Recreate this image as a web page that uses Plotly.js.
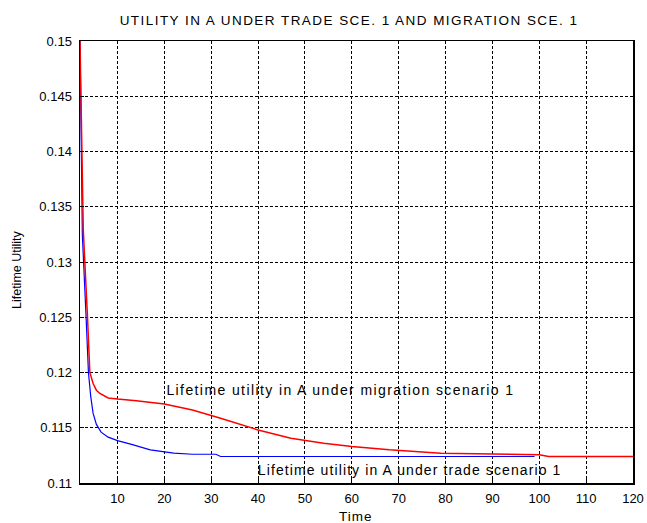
<!DOCTYPE html>
<html>
<head>
<meta charset="utf-8">
<script src="https://cdn.plot.ly/plotly-3.0.1.min.js"></script>
<style>
html,body{margin:0;padding:0;background:#fff;}
#chart{width:647px;height:523px;}
.gtitle{letter-spacing:1.45px;}
.annotation[data-index="0"] .annotation-text{letter-spacing:1.4px;}
.annotation[data-index="1"] .annotation-text{letter-spacing:1.1px;}
.annotation[data-index="2"] .annotation-text{letter-spacing:1px;}
</style>
</head>
<body>
<div id="chart"></div>
<script>
// Trade scenario 1 (blue)
var tradeTime = [2, 2.5, 3.3, 3.8, 4.3, 4.8, 5.5, 6.5, 8, 10, 13, 17, 22, 26, 31, 32, 99];
var tradeUtility = [0.150, 0.1325, 0.125, 0.120, 0.1178, 0.1163, 0.1153, 0.1146, 0.11415, 0.11383, 0.1135, 0.1130, 0.1127, 0.1126, 0.1126, 0.1124, 0.1124];

// Migration scenario 1 (red)
var migTime = [2, 2.7, 3.6, 4.1, 4.8, 5.5, 6.25, 8, 10, 14, 20, 26, 32, 36.7, 40, 47, 54, 60, 68, 79, 89, 100, 102, 120];
var migUtility = [0.150, 0.1329, 0.125, 0.120, 0.119, 0.1184, 0.1181, 0.1177, 0.1176, 0.11745, 0.11715, 0.1166, 0.11586, 0.11525, 0.1148, 0.11405, 0.1136, 0.1133, 0.1130, 0.1127, 0.1126, 0.11255, 0.1124, 0.1124];

var xTicks = [10, 20, 30, 40, 50, 60, 70, 80, 90, 100, 110, 120];
var yTicks = [0.11, 0.115, 0.12, 0.125, 0.13, 0.135, 0.14, 0.145, 0.15];
var yTickText = ["0.11", "0.115", "0.12", "0.125", "0.13", "0.135", "0.14", "0.145", "0.15"];

var titleText = "UTILITY IN A UNDER TRADE SCE. 1 AND MIGRATION SCE. 1";
var migLabel = "Lifetime utility in A under migration scenario 1";
var tradeLabel = "Lifetime utility in A under trade scenario 1";
var xTitle = "Time";
var yTitle = "Lifetime Utility";

var font = "Liberation Sans, Arial, Helvetica, sans-serif";

var traces = [
  {x: tradeTime, y: tradeUtility, mode: "lines", line: {color: "#0000ff", width: 1.2}, hoverinfo: "skip"},
  {x: migTime, y: migUtility, mode: "lines", line: {color: "#ff0000", width: 1.5}, hoverinfo: "skip"}
];

var layout = {
  width: 647, height: 523,
  margin: {l: 80, r: 14, t: 41, b: 40},
  paper_bgcolor: "#ffffff", plot_bgcolor: "#ffffff",
  showlegend: false,
  font: {family: font, size: 13, color: "#000"},
  title: {text: titleText, font: {family: font, size: 13.5, color: "#000"}, x: 349 / 647, xanchor: "center", y: 1 - 20 / 523, yanchor: "middle"},
  xaxis: {
    range: [2, 120], tickmode: "array", tickvals: xTicks,
    showgrid: true, gridcolor: "#000", griddash: "3px,2px", gridwidth: 1,
    showline: true, linecolor: "#000", linewidth: 1.5, mirror: true,
    ticks: "inside", ticklen: 4, tickcolor: "#000",
    zeroline: false, automargin: false, ticklabelstandoff: 3,
    tickfont: {family: font, size: 13}
  },
  yaxis: {
    range: [0.11, 0.15], tickmode: "array", tickvals: yTicks, ticktext: yTickText,
    showgrid: true, gridcolor: "#000", griddash: "3px,2px", gridwidth: 1,
    showline: true, linecolor: "#000", linewidth: 1.5, mirror: true,
    ticks: "inside", ticklen: 4, tickcolor: "#000",
    zeroline: false, automargin: false, ticklabelstandoff: 4,
    tickfont: {family: font, size: 13}
  },
  annotations: [
    {x: 27.2, y: 0.11842, xref: "x", yref: "y", text: migLabel, showarrow: false, xanchor: "left", yanchor: "middle", font: {family: font, size: 14, color: "#000"}},
    {x: 44.7, y: 0.11118, xref: "x", yref: "y", text: tradeLabel, showarrow: false, xanchor: "left", yanchor: "middle", font: {family: font, size: 14, color: "#000"}},
    {x: 0.499, y: -0.0769, xref: "paper", yref: "paper", text: xTitle, showarrow: false, xanchor: "center", yanchor: "middle", font: {family: font, size: 13.5, color: "#000"}},
    {x: -0.1139, y: 0.4819, xref: "paper", yref: "paper", text: yTitle, showarrow: false, textangle: -90, xanchor: "center", yanchor: "middle", font: {family: font, size: 12.5, color: "#000"}}
  ]
};

Plotly.newPlot("chart", traces, layout, {staticPlot: true, displayModeBar: false});
</script>
</body>
</html>
